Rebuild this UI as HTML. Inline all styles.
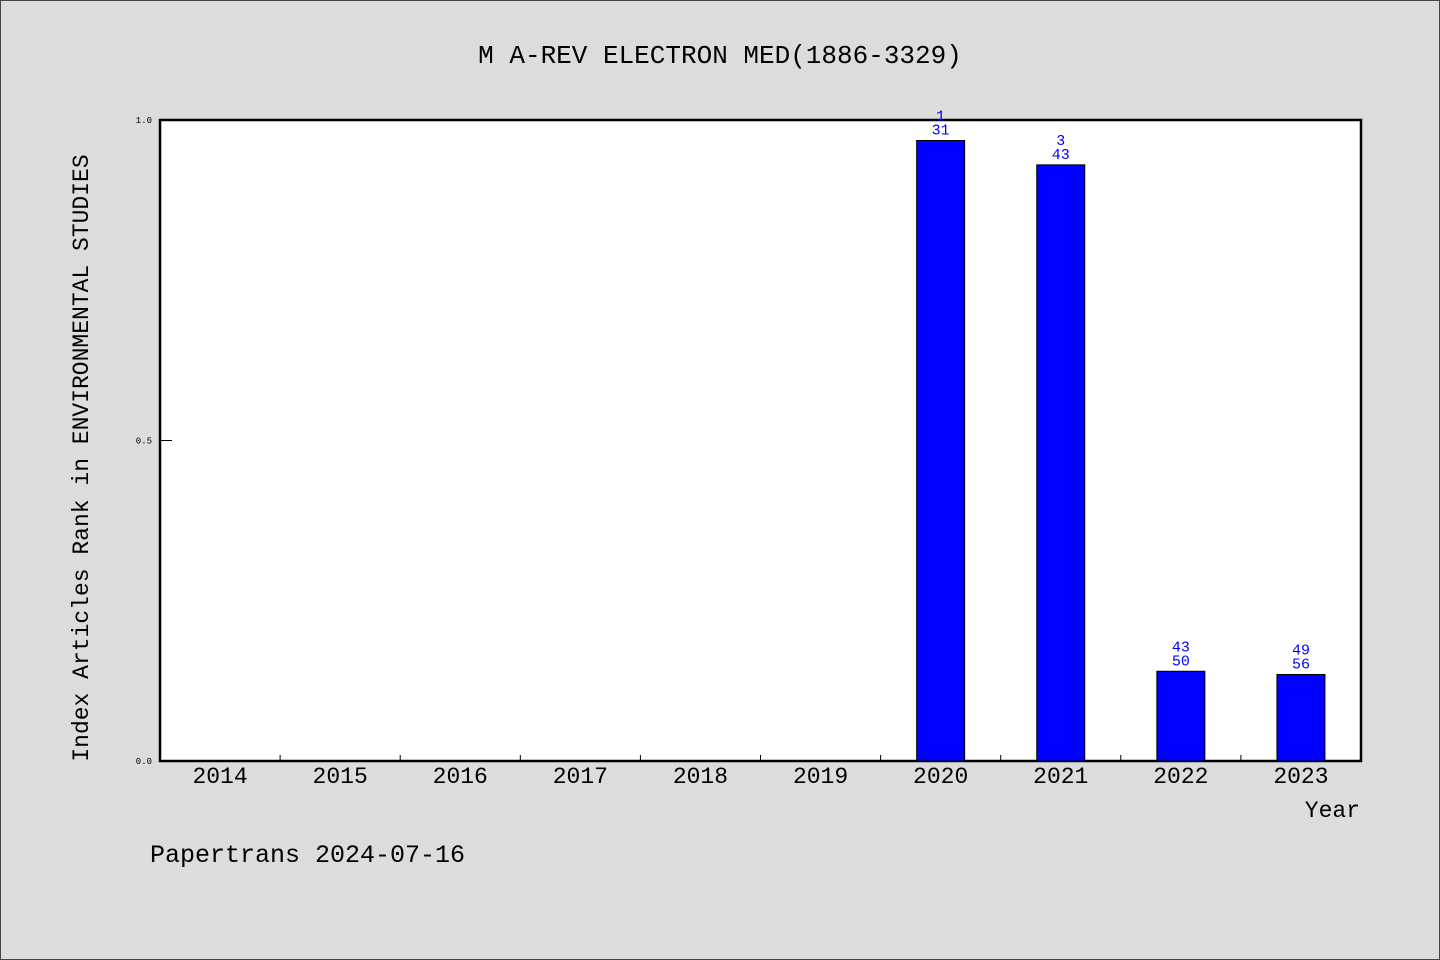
<!DOCTYPE html>
<html><head><meta charset="utf-8"><style>
html,body{margin:0;padding:0;background:#dcdcdc;}
svg{display:block;font-family:"Liberation Mono",monospace;}
</style></head><body>
<svg width="1440" height="960" id="chart">
<rect x="0.5" y="0.5" width="1439" height="959" fill="#dcdcdc" stroke="#444"/>
<text x="720" y="63" font-size="26" text-anchor="middle">M A-REV ELECTRON MED(1886-3329)</text>
<rect x="160" y="120" width="1201" height="641" fill="#fff" stroke="#000" stroke-width="2.5"/>
<g id="marks"></g>
<text transform="translate(88,458) rotate(-90)" font-size="23" text-anchor="middle">Index Articles Rank in ENVIRONMENTAL STUDIES</text>
<text x="1360" y="817" font-size="23" text-anchor="end">Year</text>
<text x="150" y="862" font-size="25">Papertrans 2024-07-16</text>
</svg>
<script>
const years=["2014","2015","2016","2017","2018","2019","2020","2021","2022","2023"];
const values=[null,null,null,null,null,null,0.968,0.93,0.14,0.135];
const ranks=["","","","","","","1","3","43","49"];
const totals=["","","","","","","31","43","50","56"];
const yTicks=[0,0.5,1];
const yTickLabels=["0.0","0.5","1.0"];
const X0=160,X1=1361,Y0=761,Y1=120;
const bw=(X1-X0)/years.length;
const xc=i=>X0+bw*(i+0.5);
const ys=v=>Y0-(Y0-Y1)*v;
const g=document.getElementById('marks');
const NS='http://www.w3.org/2000/svg';
function mk(t,a){const e=document.createElementNS(NS,t);for(const k in a)e.setAttribute(k,a[k]);g.appendChild(e);return e;}
yTicks.forEach((v,i)=>{
 const l=mk('line',{x1:X0,x2:X0+12,y1:ys(v),y2:ys(v),stroke:'#000'});
 
 
 const t=mk('text',{x:X0-8,y:ys(v)+3,'font-size':9,'text-anchor':'end'});t.textContent=yTickLabels[i];
 
 
});
years.forEach((y,i)=>{
 if(i>0){const l=mk('line',{x1:X0+bw*i,x2:X0+bw*i,y1:Y0,y2:Y0-6,stroke:'#000'});
 
 }
 const t=mk('text',{x:xc(i),y:783,'font-size':23,'text-anchor':'middle'});t.textContent=y;
 
 
 const v=values[i];
 if(v!=null){
  const r=mk('rect',{x:xc(i)-24,y:ys(v),width:48,height:Y0-ys(v),fill:'#0000ff',stroke:'#000'});
  
  
  const a=mk('text',{x:xc(i),y:ys(v)-20,'font-size':15,'text-anchor':'middle',fill:'#0000ff'});a.textContent=ranks[i];
  
  
  const b=mk('text',{x:xc(i),y:ys(v)-6,'font-size':15,'text-anchor':'middle',fill:'#0000ff'});b.textContent=totals[i];
  
  
 }
});
</script>
</body></html>
